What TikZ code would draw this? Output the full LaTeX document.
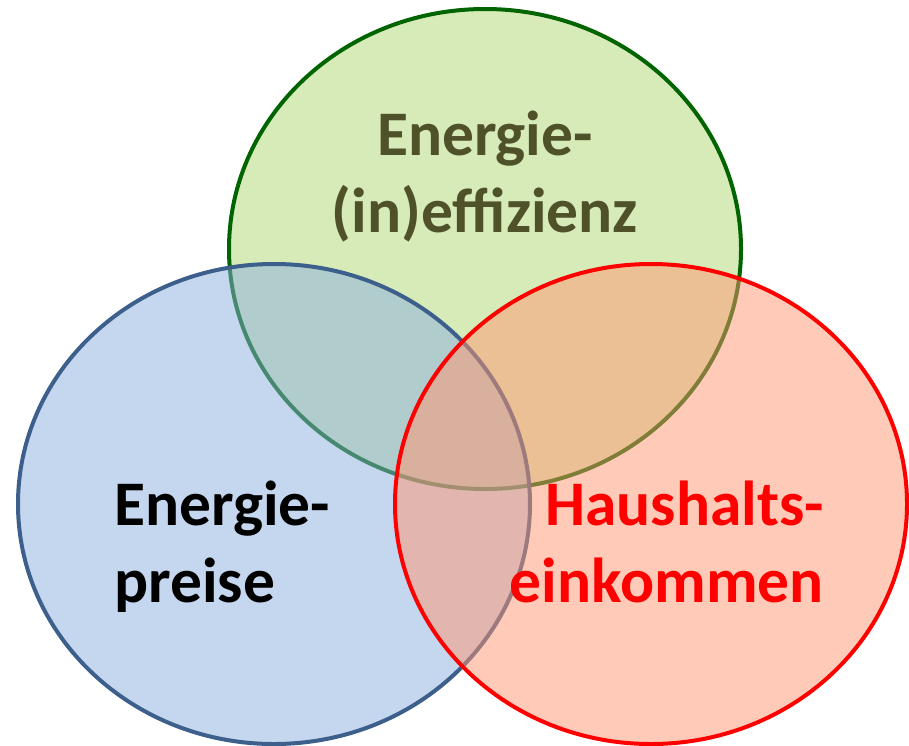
\documentclass[tikz,border=0pt]{standalone}
\usepackage{fontspec}
\setmainfont{Carlito}
\usepackage{xcolor}
\usetikzlibrary{shapes.geometric}

\definecolor{effline}{RGB}{0,100,0}
\definecolor{efffill}{RGB}{215,235,185}
\definecolor{efftext}{RGB}{79,81,40}
\definecolor{preisline}{RGB}{60,95,140}
\definecolor{preisfill}{RGB}{140,174,224}
\definecolor{einkline}{RGB}{255,0,0}
\definecolor{einkfill}{RGB}{255,150,112}

\begin{document}
\begin{tikzpicture}[x=1pt, y=-1pt,
    venn/.style={ellipse, line width=4pt, minimum width=512pt, minimum height=480pt, inner sep=0pt},
    label/.style={font=\fontsize{63.5}{77}\selectfont\bfseries, inner sep=0pt}]
    \useasboundingbox (0,0) rectangle (909,745);

    % three circles, green first, the others see-through
    \node[venn, draw=effline, fill=efffill] (eff) at (485,249) {};
    \node[venn, draw=preisline, fill=preisfill, fill opacity=0.5] (preise) at (274,504) {};
    \node[venn, draw=einkline, fill=einkfill, fill opacity=0.5] (eink) at (651,504) {};

    % labels (anchored at the last baseline)
    \node[label, efftext, align=center, anchor=base] (efftxt) at (485,232) {Energie-\\(in)effizienz};
    \node[label, black, align=left, anchor=base west] (preistxt) at (114,602) {Energie-\\preise};
    \node[label, einkline, align=right, anchor=base east] (einktxt) at (824,602) {Haushalts-\\einkommen};
\end{tikzpicture}
\end{document}
